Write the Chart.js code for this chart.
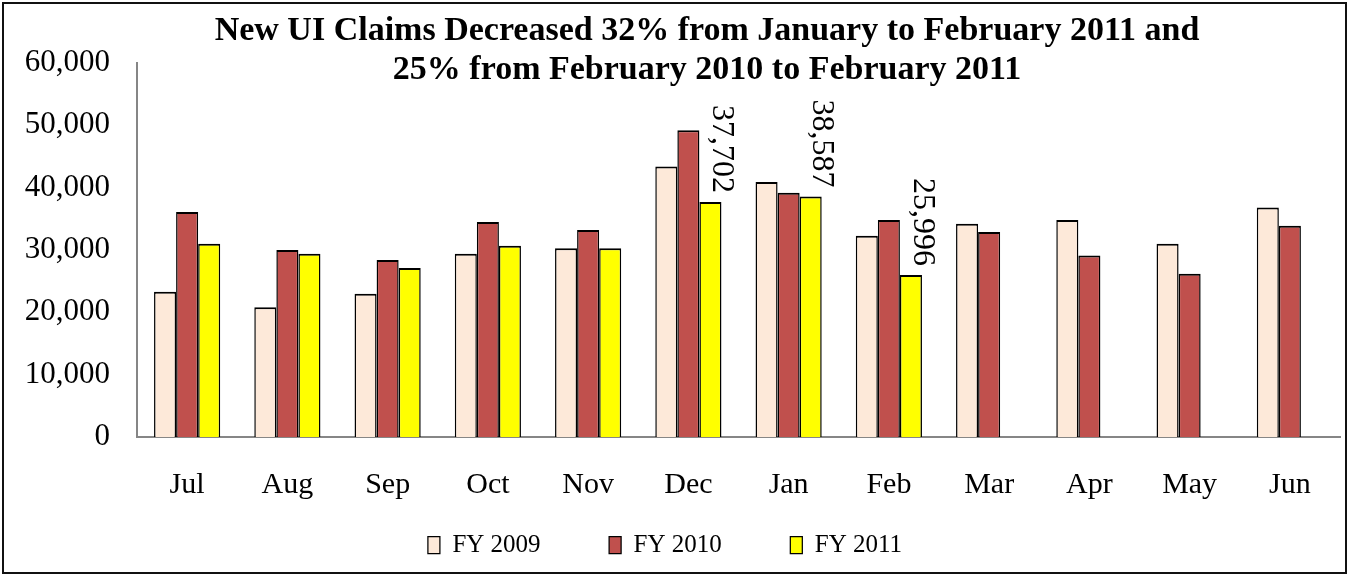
<!DOCTYPE html>
<html lang="en">
<head>
<meta charset="UTF-8">
<title>New UI Claims</title>
<script src="https://cdn.jsdelivr.net/npm/chart.js"></script>
<style>
  body { margin: 0; background: #fff; }
  #wrap { position: relative; width: 1351px; height: 575px; }
  #frame { position: absolute; left: 2px; top: 2px; width: 1345px; height: 572px;
           border: 2px solid #111; box-sizing: border-box; pointer-events: none; }
</style>
</head>
<body>
<div id="wrap">
  <canvas id="myChart" width="1351" height="575"></canvas>
  <div id="frame"></div>
</div>
<script>
// monthly new UI claims, fiscal years run Jul - Jun
const months = ['Jul', 'Aug', 'Sep', 'Oct', 'Nov', 'Dec', 'Jan', 'Feb', 'Mar', 'Apr', 'May', 'Jun'];
const fy2009 = [23300, 20800, 23000, 29400, 30300, 43400, 40900, 32300, 34200, 34800, 31000, 36800];
const fy2010 = [36100, 30000, 28400, 34500, 33200, 49200, 39200, 34800, 32900, 29100, 26200, 33900];
const fy2011 = [31000, 29400, 27100, 30700, 30300, 37702, 38587, 25996, null, null, null, null];
const labelled = [5, 6, 7];   // FY 2011 bars that carry a value label
const yMax = 60000;
const yStep = 10000;

const serif = '"Liberation Serif", "Times New Roman", serif';

// vertical value labels above some FY 2011 bars
const valueLabels = {
    id: 'valueLabels',
    afterLayout(chart) {
        // title sits a bit right of centre, legend a bit higher than its box
        const t = chart.titleBlock;
        t.left += 37; t.right += 37;
        const lg = chart.legend;
        lg.top = 464; lg.bottom = 575; lg.height = 111;
        lg.left -= 5; lg.right -= 5;
    },
    afterDatasetsDraw(chart) {
        const ctx = chart.ctx;
        const meta = chart.getDatasetMeta(2);
        ctx.save();
        ctx.font = '32px ' + serif;
        ctx.fillStyle = '#000';
        ctx.textAlign = 'right';
        ctx.textBaseline = 'middle';
        labelled.forEach(function (i) {
            const bar = meta.data[i];
            ctx.save();
            ctx.translate(bar.x + bar.width / 2, bar.y - 9);
            ctx.rotate(Math.PI / 2);
            ctx.fillText(fy2011[i].toLocaleString('en-US'), 0, 0);
            ctx.restore();
        });
        ctx.restore();
    }
};

const edge = { top: 2, left: 1.5, right: 1.5, bottom: 0 };

const data = {
    labels: months,
    datasets: [
        { label: 'FY 2009', data: fy2009, backgroundColor: '#FDE9D9', borderColor: '#000', borderWidth: edge },
        { label: 'FY 2010', data: fy2010, backgroundColor: '#C0504D', borderColor: '#000', borderWidth: edge },
        { label: 'FY 2011', data: fy2011, backgroundColor: '#FFFF00', borderColor: '#000', borderWidth: edge }
    ]
};

const config = {
    type: 'bar',
    data: data,
    options: {
        responsive: false,
        animation: false,
        categoryPercentage: 0.66,
        barPercentage: 1.0,
        layout: { padding: { left: 0, right: 11, top: 0, bottom: 28 } },
        plugins: {
            title: {
                display: true,
                text: ['New UI Claims Decreased 32% from January to February 2011 and',
                       '25% from February 2010 to February 2011'],
                color: '#000',
                font: { family: serif, size: 34, weight: 'bold', lineHeight: 1.14 },
                padding: { top: 12, bottom: -26.52 }
            },
            legend: {
                position: 'bottom',
                maxHeight: 40,
                labels: {
                    color: '#000',
                    font: { family: serif, size: 25 },
                    boxWidth: 12,
                    boxHeight: 17,
                    padding: 68.5
                }
            },
            tooltip: { enabled: false }
        },
        scales: {
            x: {
                grid: { display: false, drawTicks: false },
                border: { color: '#868686', width: 2 },
                ticks: { color: '#000', font: { family: serif, size: 30 }, padding: 30 },
                afterFit: function (s) { s.height = 70; }
            },
            y: {
                min: 0,
                max: yMax,
                grid: { display: false, drawTicks: false },
                border: { color: '#868686', width: 2 },
                ticks: { stepSize: yStep, color: '#000', font: { family: serif, size: 31 }, padding: 27 },
                afterFit: function (s) { s.width = 137; }
            }
        }
    },
    plugins: [valueLabels]
};

const myChart = new Chart(document.getElementById('myChart'), config);
</script>
</body>
</html>
